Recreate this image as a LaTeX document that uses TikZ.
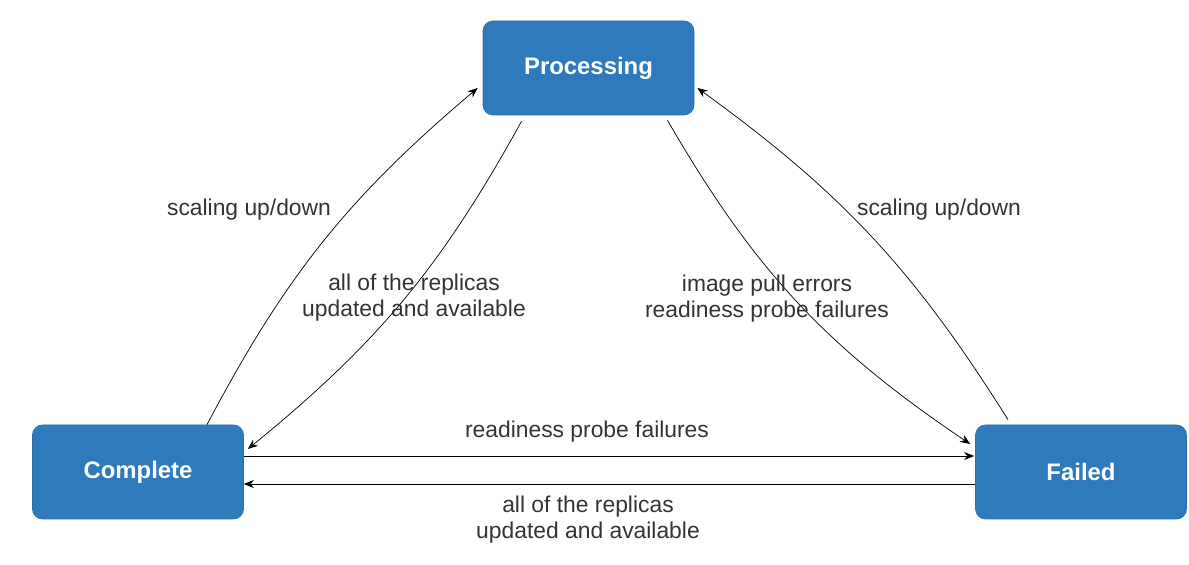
\documentclass[tikz,border=0pt]{standalone}
\usepackage{fontspec}
\setmainfont{Liberation Sans}
\usetikzlibrary{arrows.meta}
\definecolor{stateblue}{RGB}{46,122,189}
\definecolor{labelgray}{RGB}{51,51,51}
\tikzset{
    statebox/.style={draw=stateblue!90!black,fill=stateblue,rounded corners=0.2cm,
        minimum width=4.22cm,minimum height=1.88cm,text=white,
        font=\fontsize{13.6}{16}\selectfont\bfseries},
    trans/.style={thin,-{Stealth[length=2mm,width=1.6mm]}},
    translabel/.style={text=labelgray,align=center,
        font=\fontsize{13}{14.7}\selectfont}
}
\begin{document}
\begin{tikzpicture}
        \useasboundingbox (0,0) rectangle (23.78,-11.3);
        %% States
        \node[statebox] (proc) at (11.77,-1.36) {Processing};
        \node[statebox] (comp) at (2.76,-9.44) {Complete};
        \node[statebox] (fail) at (21.62,-9.44) {Failed};
        %% Left side
        \draw[trans] ([xshift=1.38cm]comp.north) to[bend left=11] ([yshift=-0.4cm,xshift=-0.1cm]proc.west);
        \node[translabel] (upleft) at (4.98,-4.2) {scaling up/down};
        \draw[trans] ([xshift=-1.34cm,yshift=-0.12cm]proc.south) to[bend left=11] ([yshift=0.46cm,xshift=0.08cm]comp.east);
        \node[translabel] (doneleft) at (8.28,-5.96) {all of the replicas\\updated and available};
        %% Right side
        \draw[trans] ([xshift=1.58cm,yshift=-0.1cm]proc.south) to[bend right=13] ([yshift=0.56cm,xshift=-0.1cm]fail.west);
        \node[translabel] (errright) at (15.34,-5.97) {image pull errors\\readiness probe failures};
        \draw[trans] ([xshift=-1.46cm,yshift=0.1cm]fail.north) to[bend right=11] ([yshift=-0.4cm,xshift=0.06cm]proc.east);
        \node[translabel] (upright) at (18.78,-4.2) {scaling up/down};
        %% Bottom
        \draw[trans] ([yshift=0.32cm]comp.east) -- ([yshift=0.32cm,xshift=-0.02cm]fail.west);
        \node[translabel] (failbottom) at (11.74,-8.64) {readiness probe failures};
        \draw[trans] ([yshift=-0.24cm]fail.west) -- ([yshift=-0.24cm]comp.east);
        \node[translabel] (donebottom) at (11.76,-10.4) {all of the replicas\\updated and available};
    \end{tikzpicture}
\end{document}
